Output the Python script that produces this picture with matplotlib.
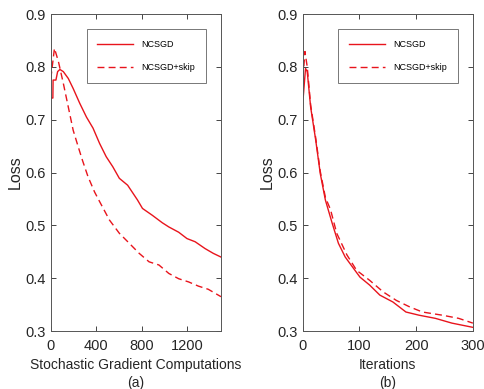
import matplotlib.pyplot as plt

plt.rcParams['font.family'] = ['Liberation Sans', 'DejaVu Sans']

# panel (a): loss vs stochastic gradient computations
sg_solid = [0, 18, 20, 45, 60, 80, 110, 154, 197, 255, 314, 372, 430, 488, 546, 604, 677,
            764, 808, 895, 982, 1040, 1127, 1200, 1272, 1360, 1432, 1500]
loss_solid_a = [0.741, 0.741, 0.775, 0.775, 0.791, 0.795, 0.791, 0.778, 0.759, 0.731, 0.705,
                0.684, 0.655, 0.630, 0.611, 0.589, 0.576, 0.548, 0.532, 0.519, 0.505, 0.497,
                0.487, 0.475, 0.469, 0.456, 0.447, 0.440]
sg_dash = [0, 32, 67, 110, 154, 197, 241, 279, 328, 386, 430, 517, 604, 692, 779, 866, 953,
           1040, 1127, 1214, 1301, 1388, 1500]
loss_dash_a = [0.778, 0.835, 0.810, 0.769, 0.724, 0.680, 0.649, 0.623, 0.592, 0.563, 0.545,
               0.510, 0.485, 0.466, 0.447, 0.431, 0.425, 0.409, 0.399, 0.393, 0.385, 0.379,
               0.365]

# panel (b): loss vs iterations
it_solid = [0, 1, 5, 8, 14, 23, 31, 40, 52, 63, 75, 90, 101, 118, 136, 159, 182, 205, 234,
            263, 300]
loss_solid_b = [0.743, 0.743, 0.797, 0.791, 0.724, 0.661, 0.598, 0.548, 0.504, 0.466, 0.440,
                0.418, 0.402, 0.387, 0.368, 0.355, 0.336, 0.330, 0.324, 0.315, 0.307]
it_dash = [0, 2, 4, 8, 14, 23, 31, 40, 49, 60, 78, 95, 118, 142, 165, 188, 211, 246, 275, 300]
loss_dash_b = [0.78, 0.80, 0.829, 0.80, 0.728, 0.665, 0.602, 0.553, 0.530, 0.485, 0.444,
               0.415, 0.396, 0.374, 0.358, 0.346, 0.336, 0.330, 0.324, 0.315]

red = '#e8141c'
fig, (ax1, ax2) = plt.subplots(1, 2, figsize=(4.84, 3.89), dpi=100)
fig.subplots_adjust(left=0.105, right=0.977, bottom=0.149, top=0.964, wspace=0.48)

panels = [
    (ax1, sg_solid, loss_solid_a, sg_dash, loss_dash_a, 1500, [0, 400, 800, 1200],
     'Stochastic Gradient Computations', '(a)'),
    (ax2, it_solid, loss_solid_b, it_dash, loss_dash_b, 300, [0, 100, 200, 300],
     'Iterations', '(b)'),
]
for ax, xs, ys, xd, yd, xmax, xt, xl, tag in panels:
    ax.plot(xs, ys, color=red, lw=1.0, label='NCSGD')
    ax.plot(xd, yd, color=red, lw=1.0, ls=(0, (5, 3)), label='NCSGD+skip')
    ax.set_xlim(0, xmax)
    ax.set_ylim(0.3, 0.9)
    ax.set_xticks(xt)
    ax.set_yticks([0.3, 0.4, 0.5, 0.6, 0.7, 0.8, 0.9])
    ax.tick_params(direction='in', top=True, right=True, labelsize=10.5,
                   colors='#262626', length=3.5, width=0.6)
    ax.tick_params(axis='x', pad=6)
    for s in ax.spines.values():
        s.set_color('#555555')
        s.set_linewidth(0.7)
    ax.set_ylabel('Loss', fontsize=11.5, color='#262626', labelpad=2)
    ax.set_xlabel(xl + '\n' + tag, fontsize=10, color='#262626', labelpad=3,
                  linespacing=1.45)
    leg = ax.legend(loc='upper right', bbox_to_anchor=(0.913, 0.953), borderaxespad=0,
                    fontsize=6.5, fancybox=False, edgecolor='#555555', handlelength=4.0,
                    labelspacing=1.55, borderpad=1.2, handletextpad=0.9)
    leg.get_frame().set_linewidth(0.7)

fig.savefig('out.png', dpi=100)
